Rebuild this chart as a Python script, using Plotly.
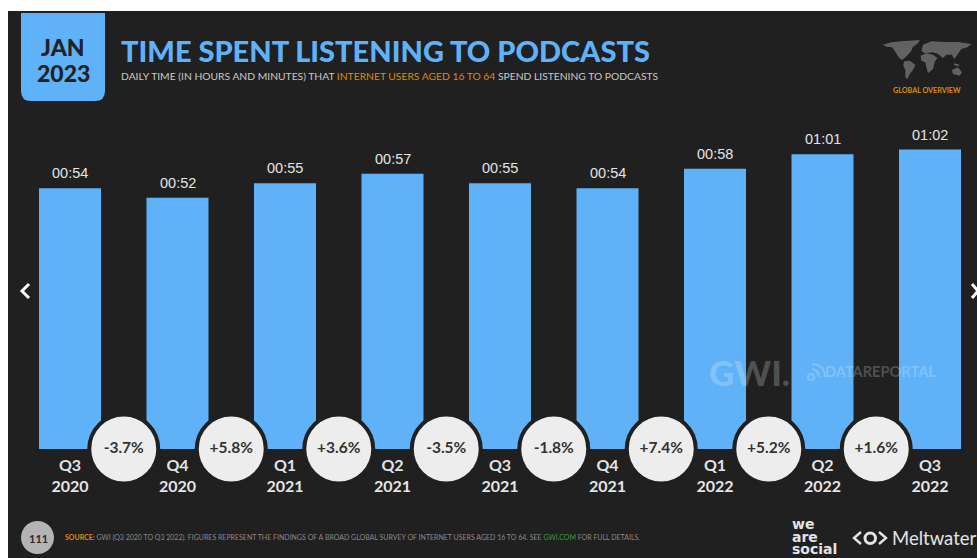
import plotly.graph_objects as go

# Chart data
quarters = ["Q3<br>2020", "Q4<br>2020", "Q1<br>2021", "Q2<br>2021", "Q3<br>2021",
            "Q4<br>2021", "Q1<br>2022", "Q2<br>2022", "Q3<br>2022"]
minutes = [54, 52, 55, 57, 55, 54, 58, 61, 62]
changes = ["-3.7%", "+5.8%", "+3.6%", "-3.5%", "-1.8%", "+7.4%", "+5.2%", "+1.6%"]
positions = list(range(len(quarters)))
midpoints = [p + 0.5 for p in positions[:-1]]
duration_labels = [f"{m // 60:02d}:{m % 60:02d}" for m in minutes]

W, H = 977, 558
BASE = 449          # pixel row of the zero line
STEP = 107.5        # pixels between neighbouring bars
FIRST = 70          # pixel column of the first bar
PX_PER_MIN = 4.83
DARK = "#202020"
BLUE = "#5fb2f8"
ORANGE = "#df8a0c"
LIGHT = "#e4e4e4"
WATERMARK = "rgba(255,255,255,0.22)"
FONT = "Lato"


def px(x):
    return x / W


def py(y):
    return 1 - y / BASE


def polygon(points):
    return "M " + " L ".join(f"{px(x)} {py(y)}" for x, y in points) + " Z"


def polyline(points):
    return "M " + " L ".join(f"{px(x)} {py(y)}" for x, y in points)


def label(x, y, text, size, color=LIGHT, anchor="left", family=FONT, weight=None):
    font = dict(size=size, color=color, family=family)
    if weight:
        font["weight"] = weight
    return dict(x=px(x), y=py(y), xref="paper", yref="paper", text=text, showarrow=False,
                xanchor=anchor, yanchor="middle", font=font, align="center",
                borderpad=0, borderwidth=0)


fig = go.Figure()
fig.add_bar(x=positions, y=minutes, width=62 / STEP, marker=dict(color=BLUE, line_width=0),
            hoverinfo="skip")
fig.add_scatter(x=midpoints, y=[0] * len(midpoints), mode="markers+text", text=changes,
                textposition="middle center", cliponaxis=False,
                marker=dict(size=69, color="#ededed", line=dict(color=DARK, width=4)),
                textfont=dict(family=FONT, size=15.5, color="#333333", weight=700),
                hoverinfo="skip")

paper = dict(xref="paper", yref="paper")
shapes = [
    # page panel
    dict(type="rect", x0=px(8), x1=px(W), y0=py(H), y1=py(11),
         fillcolor=DARK, line_width=0, layer="below", **paper),
    # date tab with rounded lower corners
    dict(type="path", layer="below", line_width=0, fillcolor=BLUE,
         path=(f"M {px(21)} {py(13)} L {px(105)} {py(13)} L {px(105)} {py(91)} "
               f"Q {px(105)} {py(101)} {px(95)} {py(101)} L {px(31)} {py(101)} "
               f"Q {px(21)} {py(101)} {px(21)} {py(91)} Z"), **paper),
    # page number badge
    dict(type="circle", x0=px(21), x1=px(54), y0=py(554), y1=py(521),
         fillcolor="#b4b4b4", line_width=0, **paper),
    # navigation chevrons
    dict(type="path", line=dict(color="white", width=3),
         path=polyline([(29, 284), (22, 291), (29, 298)]), **paper),
    dict(type="path", line=dict(color="white", width=3),
         path=polyline([(972, 284), (978, 291), (972, 298)]), **paper),
    # brand mark
    dict(type="path", line=dict(color=LIGHT, width=2.4),
         path=polyline([(861, 532), (854, 538), (861, 544)]), **paper),
    dict(type="path", line=dict(color=LIGHT, width=2.4),
         path=polyline([(879, 532), (886, 538), (879, 544)]), **paper),
    dict(type="circle", x0=px(865), x1=px(875.5), y0=py(543.5), y1=py(533),
         line=dict(color=LIGHT, width=3), **paper),
    # signal icon of the watermark
    dict(type="circle", x0=px(808), x1=px(814), y0=py(380), y1=py(374),
         line=dict(color=WATERMARK, width=2), **paper),
    dict(type="path", line=dict(color=WATERMARK, width=2),
         path=f"M {px(812)} {py(369)} Q {px(819)} {py(370)} {px(819)} {py(377)}", **paper),
    dict(type="path", line=dict(color=WATERMARK, width=2),
         path=f"M {px(812)} {py(364)} Q {px(825)} {py(365)} {px(825)} {py(377)}", **paper),
]

# simplified land masses for the region badge
MAP_LEFT, MAP_TOP = 878, 34
continents = [
    [(15, 32), (40, 25), (70, 22), (125, 18), (120, 28), (105, 38), (100, 50), (90, 62), (80, 72),
     (72, 78), (62, 70), (50, 50), (42, 40), (25, 38)],
    [(78, 82), (95, 80), (112, 92), (105, 108), (95, 120), (88, 136), (82, 130), (82, 108), (76, 95)],
    [(135, 32), (160, 22), (200, 24), (240, 24), (280, 30), (268, 40), (250, 45), (240, 60), (228, 75),
     (222, 62), (205, 62), (195, 72), (180, 60), (165, 55), (140, 58), (130, 50)],
    [(128, 65), (145, 58), (165, 62), (178, 72), (170, 85), (165, 105), (150, 118), (145, 100),
     (142, 85), (130, 80)],
    [(222, 108), (240, 100), (252, 115), (245, 125), (225, 120)],
    [(228, 88), (245, 92), (240, 97), (228, 93)],
]
for outline in continents:
    scaled = [(MAP_LEFT + x / 3, MAP_TOP + y / 3) for x, y in outline]
    shapes.append(dict(type="path", path=polygon(scaled), fillcolor="#626262", line_width=0, **paper))

subtitle = (f"DAILY TIME (IN HOURS AND MINUTES) THAT <span style='color:{ORANGE}'>"
            "INTERNET USERS AGED 16 TO 64</span> SPEND LISTENING TO PODCASTS")
source = (f"<span style='color:{ORANGE}'><b>SOURCE:</b></span> GWI (Q3 2020 TO Q3 2022). FIGURES REPRESENT "
          "THE FINDINGS OF A BROAD GLOBAL SURVEY OF INTERNET USERS AGED 16 TO 64. SEE "
          "<span style='color:#3f9a3f'>GWI.COM</span> FOR FULL DETAILS.")

annotations = [
    label(63, 47, "JAN", 23, "#222222", "center", weight=900),
    label(63, 73, "2023", 23, "#222222", "center", weight=900),
    label(121, 51, "TIME SPENT LISTENING TO PODCASTS", 29, BLUE, weight=900),
    label(121, 76, subtitle, 10.3, "#c8c8c8"),
    label(927, 90, "GLOBAL OVERVIEW", 7.2, ORANGE, "center", weight=700),
    label(38, 538, "111", 11, "#2a2a2a", "center", weight=700),
    label(65, 537, source, 7, "#8a8a8a"),
    label(709, 372, "GWI.", 35, WATERMARK, weight=900),
    label(825, 371, "DATAREPORTAL", 14.6, WATERMARK, weight=700),
    label(792, 524, "we", 14, LIGHT, family="DejaVu Sans", weight=700),
    label(792, 537, "are", 14, LIGHT, family="DejaVu Sans", weight=700),
    label(792, 549, "social", 14, LIGHT, family="DejaVu Sans", weight=700),
    label(892, 538, "Meltwater", 18.5, LIGHT),
]
# duration labels sit a fixed distance above each bar
for pos, value, text in zip(positions, minutes, duration_labels):
    annotations.append(dict(x=pos, y=value, xref="x", yref="y", text=text, showarrow=False,
                            xanchor="center", yanchor="middle", yshift=15,
                            font=dict(family="Liberation Sans", size=14.5, color=LIGHT)))

fig.update_layout(
    width=W, height=H, autosize=False, showlegend=False, barmode="overlay",
    margin=dict(l=0, r=0, t=0, b=H - BASE, pad=0),
    paper_bgcolor="white", plot_bgcolor="rgba(0,0,0,0)",
    shapes=shapes, annotations=annotations,
    xaxis=dict(range=[-FIRST / STEP, (W - FIRST) / STEP], tickmode="array", tickvals=positions,
               ticktext=quarters, showgrid=False, zeroline=False, showline=False, ticks="outside",
               ticklen=2, tickcolor="rgba(0,0,0,0)", fixedrange=True,
               tickfont=dict(family=FONT, size=16, color=LIGHT, weight=700)),
    yaxis=dict(range=[0, BASE / PX_PER_MIN], visible=False, fixedrange=True),
)

fig.write_html("out.html", config=dict(displayModeBar=False))
